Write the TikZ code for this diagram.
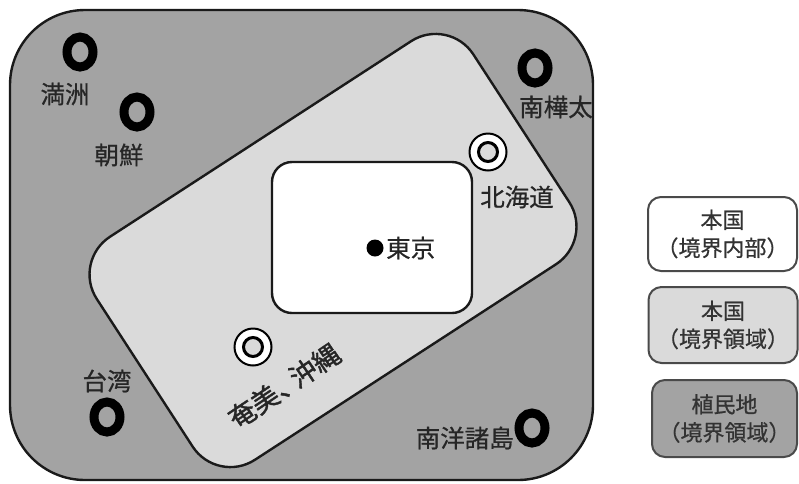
\documentclass[tikz,border=0pt]{standalone}
\usepackage{fontspec}
\setmainfont{Noto Sans CJK JP}
\newfontfamily\jpb[FakeBold=1.4]{Noto Sans CJK JP}
\newfontfamily\jpm[FakeBold=0.6]{Noto Sans CJK JP}
\usetikzlibrary{shapes.geometric}
\definecolor{darkfill}{HTML}{A3A3A3}
\definecolor{lightfill}{HTML}{DADADA}
\definecolor{edge}{HTML}{1A1A1A}
\definecolor{legedge}{HTML}{4A4A4A}
\definecolor{legtext}{HTML}{333333}
\definecolor{labeltext}{HTML}{262626}
\tikzset{
  region/.style={draw=edge, line width=2.4pt, inner sep=0pt},
  ring/.style={ellipse, draw=black, line width=9pt, inner sep=0pt, minimum width=26pt, minimum height=30pt},
  homeouter/.style={circle, draw=black, fill=white, line width=2pt, inner sep=0pt, minimum size=37pt},
  homeinner/.style={circle, draw=black, fill=lightfill, line width=3pt, inner sep=0pt, minimum size=19pt},
  place/.style={text=labeltext, font=\jpm\fontsize{24.5}{27}\selectfont, inner sep=0pt},
  legbox/.style={draw=legedge, line width=2pt, rounded corners=13pt, minimum width=149pt, align=center, text=legtext, font=\jpm\fontsize{22}{28}\selectfont, inner sep=0pt}
}
\begin{document}
\begin{tikzpicture}[x=1pt,y=-1pt]
\useasboundingbox (0,0) rectangle (799,483);
% colonies region
\node[region, fill=darkfill, rounded corners=75pt, minimum width=583pt, minimum height=470pt] (colony) at (301.5,245) {};
% home border region
\node[region, fill=lightfill, rounded corners=45pt, minimum width=449pt, minimum height=266pt, rotate=33] (border) at (333,250.5) {};
% home interior
\node[region, fill=white, rounded corners=20pt, minimum width=200pt, minimum height=151pt] (interior) at (372,237.5) {};
% Tokyo
\node[circle, fill=black, inner sep=0pt, minimum size=17pt] (tokyodot) at (375,248) {};
\node[place, anchor=west] (tokyo) at (386,248) {東京};
% colonies
\node[ring] (r1) at (80,52) {};
\node[place] (manshu) at (65,94) {満洲};
\node[ring] (r2) at (137,112) {};
\node[place] (chosen) at (119,155) {朝鮮};
\node[ring] (r3) at (535,68) {};
\node[place] (karafuto) at (556,107) {南樺太};
\node[ring] (r4) at (107,417) {};
\node[place] (taiwan) at (107,381) {台湾};
\node[ring] (r5) at (532,428) {};
\node[place, anchor=east] (nanyo) at (514,438) {南洋諸島};
% home border places
\node[homeouter] (h1) at (488,152) {};
\node[homeinner] (h1i) at (h1) {};
\node[place] (hokkaido) at (517,197) {北海道};
\node[homeouter] (h2) at (253,347) {};
\node[homeinner] (h2i) at (h2) {};
\node[text=labeltext, font=\jpb\fontsize{27}{30}\selectfont, rotate=34, inner sep=0pt] (okinawa) at (284,386) {奄美\kern0.02em、\kern-0.3em沖縄};
% legend
\node[legbox, fill=white, minimum height=74pt] (leg1) at (722.5,234) {本国\\（境界内部）};
\node[legbox, fill=lightfill, minimum height=76pt] (leg2) at (723,325) {本国\\（境界領域）};
\node[legbox, fill=darkfill, minimum width=145pt, minimum height=77pt] (leg3) at (724.5,418.5) {植民地\\（境界領域）};
\end{tikzpicture}
\end{document}
